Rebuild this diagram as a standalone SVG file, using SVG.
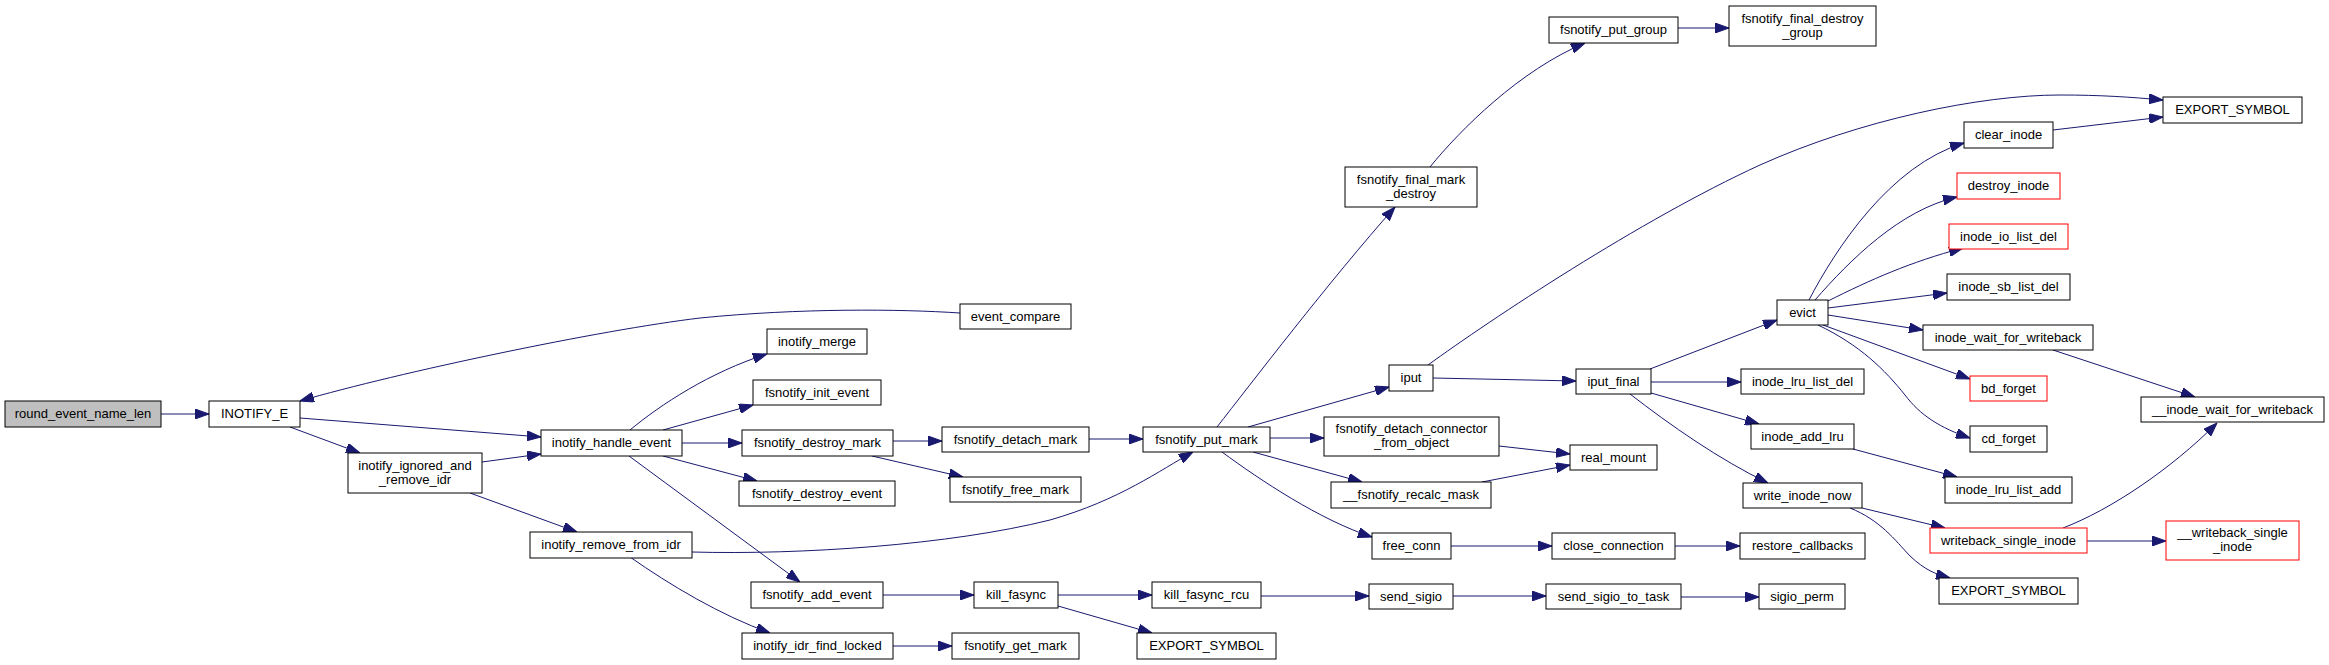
<svg xmlns="http://www.w3.org/2000/svg" width="2329" height="665" viewBox="0 0 2329 665">
<defs>
<marker id="ah" viewBox="0 0 14 10" refX="14" refY="5" markerWidth="14" markerHeight="10" markerUnits="userSpaceOnUse" orient="auto">
<path d="M0,0 L14,5 L0,10 z" fill="#191970" stroke="#191970" stroke-width="1"/>
</marker>
</defs>
<style>
.n rect{fill:#fff;stroke:#000;stroke-width:1}
.n.r rect{stroke:#ff0000}
.n.g rect{fill:#bfbfbf}
.n text{font-family:"Liberation Sans",Arial,sans-serif;font-size:13px;fill:#000;text-anchor:middle}
#edges path{fill:none;stroke:#191970;stroke-width:1;marker-end:url(#ah)}
</style>
<rect width="2329" height="665" fill="#fff"/>
<g id="edges">
<path d="M161,414 L209,414"/>
<path d="M300,418 L541,437"/>
<path d="M290,427 L360,453"/>
<path d="M960,313 C900,309 800,308 700,318 C600,330 400,372 300,401"/>
<path d="M482,462 L541,454"/>
<path d="M470,493 L577,532"/>
<path d="M630,430 C660,405 710,372 767,354"/>
<path d="M663,430 L753,405"/>
<path d="M682,443 L742,443"/>
<path d="M663,456 L757,481"/>
<path d="M629,456 L800,582"/>
<path d="M692,552 C800,555 950,545 1050,520 C1120,500 1160,470 1193,452"/>
<path d="M630,557 C670,585 720,615 770,633"/>
<path d="M893,441 L942,441"/>
<path d="M872,456 L963,477"/>
<path d="M1089,439 L1143,439"/>
<path d="M883,595 L974,595"/>
<path d="M1058,595 L1152,595"/>
<path d="M1058,606 L1152,633"/>
<path d="M893,646 L952,646"/>
<path d="M1217,427 C1250,385 1330,280 1395,207"/>
<path d="M1248,427 L1389,387"/>
<path d="M1270,438 L1324,438"/>
<path d="M1253,452 L1362,482"/>
<path d="M1222,452 C1260,480 1320,520 1372,537"/>
<path d="M1261,596 L1369,596"/>
<path d="M1430,167 C1460,130 1520,70 1585,43"/>
<path d="M1678,28 L1729,28"/>
<path d="M1428,365 C1490,320 1640,220 1760,165 C1860,120 1980,95 2060,95 C2100,95 2130,97 2163,100"/>
<path d="M1433,378 L1576,381"/>
<path d="M1499,446 L1570,454"/>
<path d="M1482,482 L1570,465"/>
<path d="M1451,546 L1552,546"/>
<path d="M1453,596 L1546,596"/>
<path d="M1650,369 L1777,320"/>
<path d="M1651,382 L1741,382"/>
<path d="M1651,393 L1759,424"/>
<path d="M1630,394 C1670,425 1720,460 1768,483"/>
<path d="M1675,546 L1740,546"/>
<path d="M1681,597 L1759,597"/>
<path d="M1809,300 C1835,250 1890,165 1964,143"/>
<path d="M1815,300 C1850,260 1900,210 1957,197"/>
<path d="M1828,301 C1870,280 1910,262 1963,248"/>
<path d="M1828,308 L1947,293"/>
<path d="M1828,315 L1923,330"/>
<path d="M1823,325 L1970,379"/>
<path d="M1818,325 C1860,345 1885,370 1905,395 C1920,415 1940,428 1970,438"/>
<path d="M1853,449 L1957,477"/>
<path d="M1862,508 L1945,528"/>
<path d="M1850,508 C1880,520 1895,540 1910,556 C1925,570 1935,574 1950,578"/>
<path d="M2053,350 L2195,397"/>
<path d="M2063,528 C2110,510 2170,470 2217,423"/>
<path d="M2087,541 L2166,541"/>
<path d="M2053,130 L2163,117"/>
</g>
<g id="n0" class="n g"><rect x="5" y="401" width="156" height="26"/><text x="83" y="418">round_event_name_len</text></g>
<g id="n1" class="n"><rect x="209" y="401" width="91" height="26"/><text x="254.5" y="418">INOTIFY_E</text></g>
<g id="n2" class="n"><rect x="348" y="453" width="134" height="40"/><text x="415" y="469.5">inotify_ignored_and</text><text x="415" y="483.5">_remove_idr</text></g>
<g id="n3" class="n"><rect x="541" y="430" width="141" height="26"/><text x="611.5" y="447">inotify_handle_event</text></g>
<g id="n4" class="n"><rect x="530" y="532" width="162" height="26"/><text x="611" y="549">inotify_remove_from_idr</text></g>
<g id="n5" class="n"><rect x="767" y="329" width="100" height="25"/><text x="817" y="346">inotify_merge</text></g>
<g id="n6" class="n"><rect x="753" y="380" width="128" height="25"/><text x="817" y="397">fsnotify_init_event</text></g>
<g id="n7" class="n"><rect x="742" y="430" width="151" height="26"/><text x="817.5" y="447">fsnotify_destroy_mark</text></g>
<g id="n8" class="n"><rect x="739" y="481" width="156" height="25"/><text x="817" y="498">fsnotify_destroy_event</text></g>
<g id="n9" class="n"><rect x="751" y="582" width="132" height="26"/><text x="817" y="599">fsnotify_add_event</text></g>
<g id="n10" class="n"><rect x="742" y="633" width="151" height="26"/><text x="817.5" y="650">inotify_idr_find_locked</text></g>
<g id="n11" class="n"><rect x="960" y="304" width="111" height="25"/><text x="1015.5" y="321">event_compare</text></g>
<g id="n12" class="n"><rect x="942" y="427" width="147" height="25"/><text x="1015.5" y="444">fsnotify_detach_mark</text></g>
<g id="n13" class="n"><rect x="950" y="477" width="131" height="25"/><text x="1015.5" y="494">fsnotify_free_mark</text></g>
<g id="n14" class="n"><rect x="974" y="582" width="84" height="26"/><text x="1016" y="599">kill_fasync</text></g>
<g id="n15" class="n"><rect x="952" y="633" width="127" height="26"/><text x="1015.5" y="650">fsnotify_get_mark</text></g>
<g id="n16" class="n"><rect x="1137" y="633" width="139" height="26"/><text x="1206.5" y="650">EXPORT_SYMBOL</text></g>
<g id="n17" class="n"><rect x="1143" y="427" width="127" height="25"/><text x="1206.5" y="444">fsnotify_put_mark</text></g>
<g id="n18" class="n"><rect x="1152" y="582" width="109" height="26"/><text x="1206.5" y="599">kill_fasync_rcu</text></g>
<g id="n19" class="n"><rect x="1345" y="167" width="132" height="40"/><text x="1411" y="183.5">fsnotify_final_mark</text><text x="1411" y="197.5">_destroy</text></g>
<g id="n20" class="n"><rect x="1549" y="17" width="129" height="26"/><text x="1613.5" y="34">fsnotify_put_group</text></g>
<g id="n21" class="n"><rect x="1729" y="6" width="147" height="40"/><text x="1802.5" y="22.5">fsnotify_final_destroy</text><text x="1802.5" y="36.5">_group</text></g>
<g id="n22" class="n"><rect x="1389" y="365" width="44" height="26"/><text x="1411" y="382">iput</text></g>
<g id="n23" class="n"><rect x="1324" y="417" width="175" height="39"/><text x="1411.5" y="433">fsnotify_detach_connector</text><text x="1411.5" y="447">_from_object</text></g>
<g id="n24" class="n"><rect x="1331" y="482" width="160" height="26"/><text x="1411" y="499">__fsnotify_recalc_mask</text></g>
<g id="n25" class="n"><rect x="1372" y="533" width="79" height="26"/><text x="1411.5" y="550">free_conn</text></g>
<g id="n26" class="n"><rect x="1369" y="584" width="84" height="25"/><text x="1411" y="601">send_sigio</text></g>
<g id="n27" class="n"><rect x="1576" y="369" width="75" height="25"/><text x="1613.5" y="386">iput_final</text></g>
<g id="n28" class="n"><rect x="1570" y="445" width="87" height="25"/><text x="1613.5" y="462">real_mount</text></g>
<g id="n29" class="n"><rect x="1552" y="533" width="123" height="26"/><text x="1613.5" y="550">close_connection</text></g>
<g id="n30" class="n"><rect x="1546" y="584" width="135" height="25"/><text x="1613.5" y="601">send_sigio_to_task</text></g>
<g id="n31" class="n"><rect x="1777" y="300" width="51" height="25"/><text x="1802.5" y="317">evict</text></g>
<g id="n32" class="n"><rect x="1741" y="369" width="123" height="25"/><text x="1802.5" y="386">inode_lru_list_del</text></g>
<g id="n33" class="n"><rect x="1751" y="424" width="103" height="25"/><text x="1802.5" y="441">inode_add_lru</text></g>
<g id="n34" class="n"><rect x="1743" y="483" width="119" height="25"/><text x="1802.5" y="500">write_inode_now</text></g>
<g id="n35" class="n"><rect x="1740" y="533" width="125" height="26"/><text x="1802.5" y="550">restore_callbacks</text></g>
<g id="n36" class="n"><rect x="1759" y="584" width="86" height="25"/><text x="1802" y="601">sigio_perm</text></g>
<g id="n37" class="n"><rect x="1964" y="122" width="89" height="26"/><text x="2008.5" y="139">clear_inode</text></g>
<g id="n38" class="n"><rect x="2163" y="97" width="139" height="26"/><text x="2232.5" y="114">EXPORT_SYMBOL</text></g>
<g id="n39" class="n r"><rect x="1957" y="173" width="103" height="26"/><text x="2008.5" y="190">destroy_inode</text></g>
<g id="n40" class="n r"><rect x="1949" y="224" width="119" height="25"/><text x="2008.5" y="241">inode_io_list_del</text></g>
<g id="n41" class="n"><rect x="1947" y="274" width="123" height="26"/><text x="2008.5" y="291">inode_sb_list_del</text></g>
<g id="n42" class="n"><rect x="1923" y="325" width="170" height="25"/><text x="2008" y="342">inode_wait_for_writeback</text></g>
<g id="n43" class="n r"><rect x="1970" y="376" width="77" height="25"/><text x="2008.5" y="393">bd_forget</text></g>
<g id="n44" class="n"><rect x="1970" y="426" width="77" height="26"/><text x="2008.5" y="443">cd_forget</text></g>
<g id="n45" class="n"><rect x="1945" y="477" width="127" height="26"/><text x="2008.5" y="494">inode_lru_list_add</text></g>
<g id="n46" class="n r"><rect x="1930" y="528" width="157" height="25"/><text x="2008.5" y="545">writeback_single_inode</text></g>
<g id="n47" class="n"><rect x="1939" y="578" width="139" height="26"/><text x="2008.5" y="595">EXPORT_SYMBOL</text></g>
<g id="n48" class="n"><rect x="2141" y="397" width="183" height="25"/><text x="2232.5" y="414">__inode_wait_for_writeback</text></g>
<g id="n49" class="n r"><rect x="2166" y="521" width="133" height="39"/><text x="2232.5" y="537">__writeback_single</text><text x="2232.5" y="551">_inode</text></g>
</svg>
